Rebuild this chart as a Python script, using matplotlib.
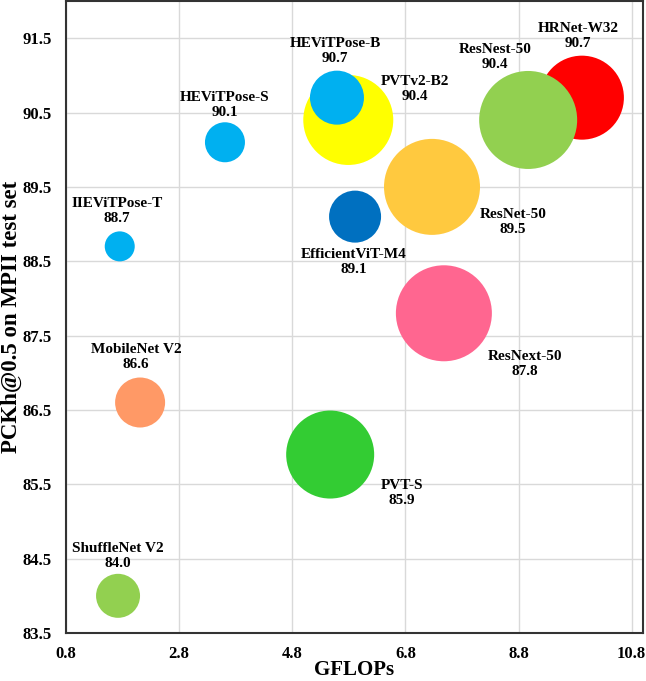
import matplotlib
matplotlib.use("Agg")
import matplotlib.pyplot as plt
import numpy as np

# Data
models = ["HEViTPose-T", "HEViTPose-S", "PVTv2-B2", "HEViTPose-B", "HRNet-W32",
          "ResNest-50", "ResNet-50", "EfficientViT-M4", "ResNext-50",
          "MobileNet V2", "PVT-S", "ShuffleNet V2"]
label_names = ["IIEViTPose-T", "HEViTPose-S", "PVTv2-B2", "HEViTPose-B", "HRNet-W32",
               "ResNest-50", "ResNet-50", "EfficientViT-M4", "ResNext-50",
               "MobileNet V2", "PVT-S", "ShuffleNet V2"]
gflops = [1.75, 3.61, 5.79, 5.59, 9.92, 8.97, 7.27, 5.91, 7.48, 2.11, 5.47, 1.72]
pckh = [88.7, 90.1, 90.4, 90.7, 90.7, 90.4, 89.5, 89.1, 87.8, 86.6, 85.9, 84.0]
# bubble radius (relative size)
bubble = [15, 20, 45, 27, 42, 49, 48, 26, 48, 25, 44, 22]

colors = ["#00B0F0", "#00B0F0", "#FFFF00", "#00B0F0", "#FF0000",
          "#92D050", "#FFC93F", "#0070C0", "#FF6690",
          "#FF9966", "#33CC33", "#92D050"]
# label offset from bubble centre, in pixels (x right, y up)
offsets = [(-3, 35), (0, 37), (67, 31), (-2, 47), (-4, 62), (-33, 63),
           (81, -35), (-1, -45), (81, -51), (-4, 46), (72, -38), (0, 40)]

xticks = [0.8, 2.8, 4.8, 6.8, 8.8, 10.8]
yticks = [83.5, 84.5, 85.5, 86.5, 87.5, 88.5, 89.5, 90.5, 91.5]

DPI = 100
fig = plt.figure(figsize=(6.46, 6.81), dpi=DPI)
ax = fig.add_axes([66 / 646, 48 / 681, 577 / 646, 632 / 681])

serif = "Liberation Serif"
px = 72.0 / DPI

for i in range(len(models)):
    d = 2 * bubble[i] * px
    ax.scatter(gflops[i], pckh[i], s=d * d, color=colors[i], edgecolors="none",
               zorder=3 + i * 0.01)
    ax.annotate(f"{label_names[i]}\n{pckh[i]:.1f}", (gflops[i], pckh[i]),
                xytext=(offsets[i][0] * px, offsets[i][1] * px),
                textcoords="offset points", ha="center", va="center",
                multialignment="center", fontsize=11, fontweight="bold",
                family=serif, zorder=5, linespacing=1.2)

ax.set_xlim(0.8, 11.0)
ax.set_ylim(83.5, 92.0)
ax.set_xticks(xticks)
ax.set_yticks(yticks)
ax.set_xticklabels([f"{t:.1f}" for t in xticks])
ax.set_yticklabels([f"{t:.1f}" for t in yticks])
for lab in ax.get_xticklabels() + ax.get_yticklabels():
    lab.set_fontfamily(serif)
    lab.set_fontweight("bold")
    lab.set_fontsize(12)
ax.tick_params(axis="both", length=0)
ax.tick_params(axis="x", pad=9)
ax.tick_params(axis="y", pad=10)

ax.grid(True, color="#D9D9D9", linewidth=1.0, zorder=0)
ax.set_axisbelow(True)
for sp in ax.spines.values():
    sp.set_color("#333333")
    sp.set_linewidth(1.5)

ax.set_xlabel("GFLOPs", fontsize=15, fontweight="bold", family=serif, labelpad=-1)
ax.set_ylabel("PCKh@0.5 on MPII test set", fontsize=16.5, fontweight="bold",
              family=serif, va="center")
ax.yaxis.set_label_coords(-55 / 577, 0.5)

fig.savefig("out.png", dpi=DPI)
